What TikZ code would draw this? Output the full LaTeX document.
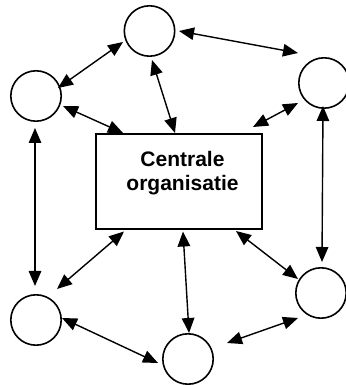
\documentclass[tikz,border=0pt]{standalone}
\usepackage{fontspec}
\setmainfont{Liberation Sans}
\usetikzlibrary{arrows.meta,calc}

\tikzset{
  member/.style={draw, circle, line width=1.6pt, minimum size=50.4pt, inner sep=0pt},
  hub/.style={draw, rectangle, line width=1.6pt, minimum width=166.4pt, minimum height=95.4pt, inner sep=0pt},
  hubtext/.style={align=center, font=\fontsize{21}{23.5}\selectfont\bfseries, inner sep=0pt},
  link/.style={line width=1.4pt, {Triangle[length=15pt,width=12.5pt]}-{Triangle[length=15pt,width=12.5pt]}}
}

\begin{document}
\begin{tikzpicture}[x=1pt,y=1pt]
  \useasboundingbox (0,0) rectangle (345,385);

  % central organisation
  \node[hub] (B) at (179,203.5) {};
  \node[hubtext] (Btext) at (182.5,212) {Centrale\\organisatie};

  % surrounding members
  \node[member] (T)  at (149.5,354) {};
  \node[member] (L)  at (36,289)    {};
  \node[member] (R)  at (324,302)   {};
  \node[member] (BL) at (36,65)     {};
  \node[member] (BO) at (188,26)    {};
  \node[member] (BR) at (321,92)    {};

  % links between members
  \draw[link] ($(T)+(-26.5,-11)$) -- ($(L)+(22,8)$);
  \draw[link] ($(T)+(29.5,0)$)    -- ($(R)+(-26,30)$);
  \draw[link] ($(L)+(-1,-32)$)    -- ($(BL)+(-1,34)$);
  \draw[link] ($(R)+(-1,-23)$)    -- ($(BR)+(1,31)$);
  \draw[link] ($(BL)+(26,2)$)     -- ($(BO)+(-30,-4)$);
  \draw[link] ($(BO)+(39,16)$)    -- ($(BR)+(-23,-25)$);

  % links to the central organisation
  \draw[link] ($(T)+(2.5,-29)$)   -- ($(B.north)+(-4,0)$);
  \draw[link] ($(L)+(27,-10)$)    -- ($(B.north west)+(28,0)$);
  \draw[link] ($(B.north east)+(-10,6)$) -- ($(R)+(-26,-20)$);
  \draw[link] ($(B.south west)+(29,-1.5)$) -- ($(BL)+(21,31)$);
  \draw[link] ($(B.south)+(4,-1.5)$) -- ($(BO)+(1,26)$);
  \draw[link] ($(B.south east)+(-27,-1)$) -- ($(BR)+(-23,14)$);
\end{tikzpicture}
\end{document}
